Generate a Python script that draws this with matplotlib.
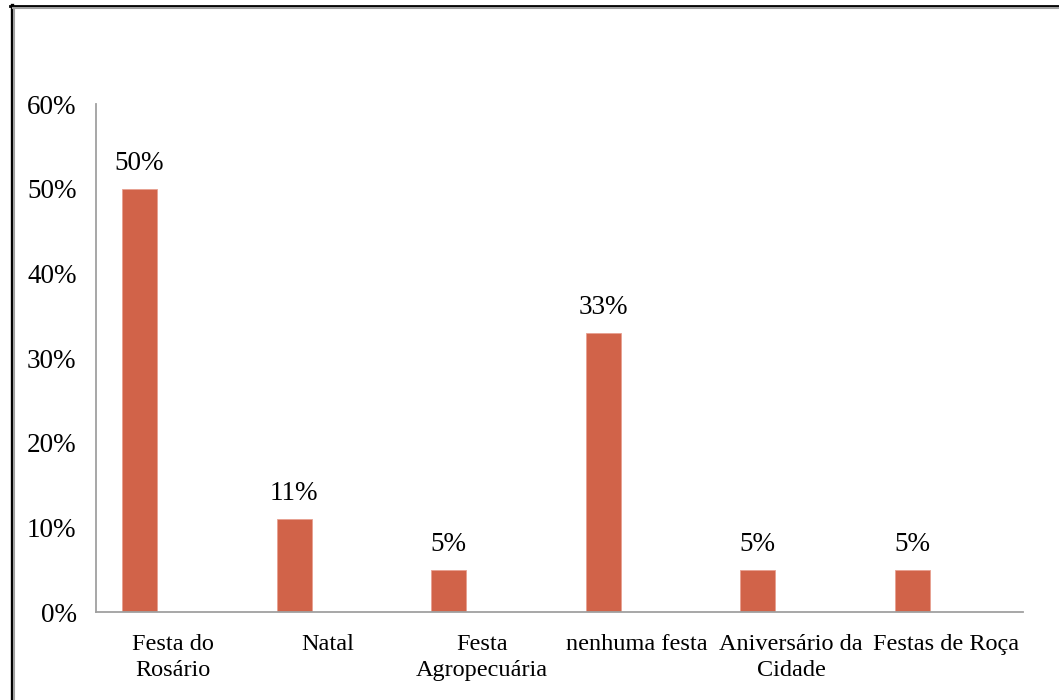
import matplotlib.pyplot as plt
from matplotlib.lines import Line2D
from matplotlib.ticker import FuncFormatter

# dados: festas em que os entrevistados participam
festas = ["Festa do\nRosário", "Natal", "Festa\nAgropecuária",
          "nenhuma festa", "Aniversário da\nCidade", "Festas de Roça"]
percentuais = [50, 11, 5, 33, 5, 5]

plt.rcParams['font.family'] = ['Liberation Serif', 'DejaVu Serif']

fig = plt.figure(figsize=(10.59, 7.0), dpi=100)
ax = fig.add_axes([0.0907, 0.1257, 0.8753, 0.7257])

cor = '#D16349'
x = list(range(len(festas)))
pos = [i - 0.218 for i in x]
barras = ax.bar(pos, percentuais, width=0.227, color=cor, edgecolor='#E8A090', linewidth=0.6)

for b, v in zip(barras, percentuais):
    ax.text(b.get_x() + b.get_width() / 2, v + 1.5, f"{v}%",
            ha='center', va='bottom', fontsize=19.5)

ax.set_xlim(-0.5, len(festas) - 0.5)
ax.set_ylim(0, 60)
ax.set_yticks(range(0, 61, 10))
ax.yaxis.set_major_formatter(FuncFormatter(lambda v, p: f"{int(v)}%"))
ax.set_xticks(x)
ax.set_xticklabels(festas, fontsize=17.5, linespacing=1.3)
ax.tick_params(axis='y', length=0, pad=14, labelsize=19.5)
ax.tick_params(axis='x', length=0, pad=16)

for s in ['top', 'right']:
    ax.spines[s].set_visible(False)
for s in ['left', 'bottom']:
    ax.spines[s].set_color('#A0A0A0')
    ax.spines[s].set_linewidth(1.3)

# moldura da figura (preta com sombra cinza)
W, H = 1059, 700
def fx(px):
    return px / W
def fy(py):
    return 1 - py / H

fig.add_artist(Line2D([fx(11.5), fx(11.5)], [fy(5), 0], color='black', lw=2.4, transform=fig.transFigure))
fig.add_artist(Line2D([fx(10), 1], [fy(6), fy(6)], color='black', lw=2.0, transform=fig.transFigure))
fig.add_artist(Line2D([fx(14), fx(14)], [fy(7.5), 0], color='#A0A0A0', lw=1.5, transform=fig.transFigure))
fig.add_artist(Line2D([fx(13), 1], [fy(8), fy(8)], color='#A0A0A0', lw=1.5, transform=fig.transFigure))

fig.savefig('out.png', dpi=100)
